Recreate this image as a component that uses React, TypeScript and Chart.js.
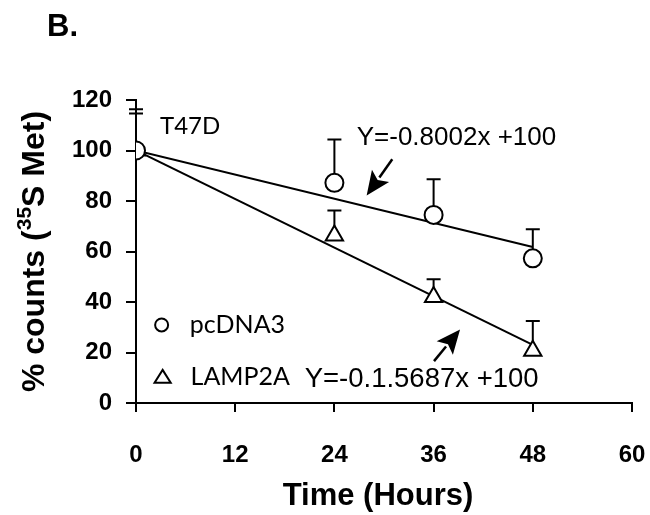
import React, { useEffect, useRef } from "react";
import { Chart, registerables } from "chart.js";

Chart.register(...registerables);

// ---- data ----
const hours = [0, 24, 36, 48];
const pcdnaValues = [100, 87.2, 74.5, 57.3];
const pcdnaErrors = [16.3, 17.2, 14.1, 11.5];
const lampValues = [100, 66.3, 42.0, 20.7];
const lampErrors = [14.7, 9.9, 7.0, 11.8];
const fitHours = [0, 48];
const pcdnaFit = [100, 61.8];
const lampFit = [100, 23.0];
const xTicks = [0, 12, 24, 36, 48, 60];
const yTicks = [0, 20, 40, 60, 80, 100, 120];
const seriesLabels = ["pcDNA3", "LAMP2A"];
const fitLabels = ["Y=-0.8002x +100", "Y=-0.1.5687x +100"];
const cellLabel = "T47D";
const panelLabel = "B.";
const xTitle = "Time (Hours)";
const yTitleParts = ["% counts (", "35", "S Met)"];

// annotation anchors in data coordinates
const arrows = [
  { from: [31.0, 96.5], to: [27.9, 82.2] },
  { from: [36.05, 16.6], to: [39.2, 29.1] },
];

const SANS = "'Liberation Sans', Arial, sans-serif";
const CAL = "Lato, 'Open Sans', sans-serif";

function drawArrow(ctx: CanvasRenderingContext2D, x1: number, y1: number, x2: number, y2: number) {
  const ang = Math.atan2(y2 - y1, x2 - x1);
  const headLen = 24;
  const headW = 10.5;
  const c = Math.cos(ang), s = Math.sin(ang);
  const bx = x2 - headLen * c, by = y2 - headLen * s;
  ctx.beginPath();
  ctx.moveTo(x1, y1);
  ctx.lineTo(bx + 2 * c, by + 2 * s);
  ctx.lineWidth = 2.5;
  ctx.stroke();
  ctx.beginPath();
  ctx.moveTo(x2, y2);
  ctx.lineTo(bx - headW * s, by + headW * c);
  ctx.lineTo(bx + 5 * c, by + 5 * s);
  ctx.lineTo(bx + headW * s, by - headW * c);
  ctx.closePath();
  ctx.fill();
}

const annotPlugin = {
  id: "annot",
  beforeDatasetsDraw(chart: any) {
    const ctx: CanvasRenderingContext2D = chart.ctx;
    const xs = chart.scales.x, ys = chart.scales.y;
    ctx.save();
    ctx.strokeStyle = "#000";
    ctx.lineWidth = 2;
    const series = [
      [pcdnaValues, pcdnaErrors],
      [lampValues, lampErrors],
    ];
    series.forEach(([vals, errs]) => {
      hours.forEach((h, i) => {
        const px = xs.getPixelForValue(h);
        const py = ys.getPixelForValue(vals[i]);
        const pe = ys.getPixelForValue(vals[i] + errs[i]);
        ctx.beginPath();
        ctx.moveTo(px, py);
        ctx.lineTo(px, pe);
        ctx.moveTo(px - 7, pe);
        ctx.lineTo(px + 7, pe);
        ctx.stroke();
      });
    });
    ctx.restore();
  },
  afterDraw(chart: any) {
    const ctx: CanvasRenderingContext2D = chart.ctx;
    const xs = chart.scales.x, ys = chart.scales.y;
    const area = chart.chartArea;
    const X = (v: number) => xs.getPixelForValue(v);
    const Y = (v: number) => ys.getPixelForValue(v);
    ctx.save();
    ctx.fillStyle = "#000";
    ctx.strokeStyle = "#000";

    // panel label
    ctx.font = `bold 31px ${SANS}`;
    ctx.textAlign = "left";
    ctx.textBaseline = "alphabetic";
    ctx.fillText(panelLabel, 47, 36);

    // cell line label
    ctx.font = `24px ${CAL}`;
    ctx.textBaseline = "middle";
    ctx.fillText(cellLabel, X(2.9), Y(109.5));

    // fit labels
    ctx.font = `26px ${SANS}`;
    ctx.fillText(fitLabels[0], X(26.7), Y(105.1));
    ctx.font = `27.5px ${SANS}`;
    ctx.fillText(fitLabels[1], X(20.4), Y(9.5));

    // arrows
    arrows.forEach((a) => {
      drawArrow(ctx, X(a.from[0]), Y(a.from[1]), X(a.to[0]), Y(a.to[1]));
    });

    // legend
    ctx.lineWidth = 2;
    ctx.fillStyle = "#fff";
    const lx = X(3.1);
    const ly1 = Y(30.9);
    ctx.beginPath();
    ctx.arc(lx, ly1, 6.5, 0, Math.PI * 2);
    ctx.fill();
    ctx.stroke();
    const ly2 = Y(10.3);
    const r = 9.5;
    ctx.beginPath();
    ctx.moveTo(lx + 1, ly2 - r * 0.75);
    ctx.lineTo(lx + 1 + r * 0.85, ly2 + r * 0.6);
    ctx.lineTo(lx + 1 - r * 0.85, ly2 + r * 0.6);
    ctx.closePath();
    ctx.fill();
    ctx.stroke();
    ctx.fillStyle = "#000";
    ctx.font = `25px ${CAL}`;
    ctx.textAlign = "left";
    ctx.textBaseline = "middle";
    ctx.fillText(seriesLabels[0], X(6.5), ly1);
    ctx.fillText(seriesLabels[1], X(6.6), ly2);

    // x title
    ctx.font = `bold 31px ${SANS}`;
    ctx.textAlign = "center";
    ctx.textBaseline = "middle";
    ctx.fillText(xTitle, (area.left + area.right) / 2 - 6, 496);

    // y title (rotated with superscript)
    const big = `bold 32px ${SANS}`;
    const small = `bold 21px ${SANS}`;
    ctx.font = big;
    const w1 = ctx.measureText(yTitleParts[0]).width;
    const w3 = ctx.measureText(yTitleParts[2]).width;
    ctx.font = small;
    const w2 = ctx.measureText(yTitleParts[1]).width;
    const total = w1 + w2 + w3;
    ctx.translate(44, (area.top + area.bottom) / 2);
    ctx.rotate(-Math.PI / 2);
    ctx.textAlign = "left";
    ctx.textBaseline = "alphabetic";
    let cx = -total / 2;
    ctx.font = big;
    ctx.fillText(yTitleParts[0], cx, 0);
    cx += w1;
    ctx.font = small;
    ctx.fillText(yTitleParts[1], cx, -13);
    cx += w2;
    ctx.font = big;
    ctx.fillText(yTitleParts[2], cx, 0);
    ctx.restore();
  },
};

export default function App() {
  const ref = useRef<HTMLCanvasElement>(null);
  useEffect(() => {
    const toPts = (xs: number[], ys: number[]) => xs.map((x, i) => ({ x, y: ys[i] }));
    const chart = new Chart(ref.current as HTMLCanvasElement, {
      type: "scatter",
      data: {
        datasets: [
          {
            label: seriesLabels[0],
            data: toPts(hours, pcdnaValues),
            pointStyle: "circle",
            pointRadius: 9,
            pointBorderWidth: 2,
            pointBackgroundColor: "#fff",
            pointBorderColor: "#000",
            order: 0,
          },
          {
            label: seriesLabels[1],
            data: toPts(hours, lampValues),
            pointStyle: "triangle",
            pointRadius: 10,
            pointBorderWidth: 2,
            pointBackgroundColor: "#fff",
            pointBorderColor: "#000",
            order: 0,
          },
          {
            label: fitLabels[0],
            data: toPts(fitHours, pcdnaFit),
            showLine: true,
            pointRadius: 0,
            borderColor: "#000",
            borderWidth: 2,
            order: 5,
          },
          {
            label: fitLabels[1],
            data: toPts(fitHours, lampFit),
            showLine: true,
            pointRadius: 0,
            borderColor: "#000",
            borderWidth: 2,
            order: 5,
          },
        ],
      } as any,
      options: {
        animation: false,
        responsive: false,
        devicePixelRatio: 1,
        layout: { padding: { top: 100, right: 18, left: 0, bottom: 0 } },
        plugins: { legend: { display: false }, tooltip: { enabled: false } },
        scales: {
          x: {
            type: "linear",
            min: 0,
            max: 60,
            afterBuildTicks: (s: any) => {
              s.ticks = xTicks.map((v) => ({ value: v }));
            },
            afterFit: (s: any) => {
              s.height = 112;
              s.paddingLeft = 0;
              s.paddingRight = 0;
            },
            grid: { drawOnChartArea: false, drawTicks: true, tickLength: 9, color: "#000", lineWidth: 2 },
            border: { display: true, color: "#000", width: 2 },
            ticks: {
              padding: 29,
              color: "#000",
              maxRotation: 0,
              autoSkip: false,
              font: { family: SANS, size: 24, weight: "bold" },
            },
          },
          y: {
            type: "linear",
            min: 0,
            max: 120,
            afterBuildTicks: (s: any) => {
              s.ticks = yTicks.map((v) => ({ value: v }));
            },
            afterFit: (s: any) => {
              s.width = 136;
              s.paddingTop = 0;
              s.paddingBottom = 0;
            },
            grid: { drawOnChartArea: false, drawTicks: true, tickLength: 10, color: "#000", lineWidth: 2 },
            border: { display: true, color: "#000", width: 2 },
            ticks: {
              padding: 14,
              color: "#000",
              autoSkip: false,
              font: { family: SANS, size: 24, weight: "bold" },
            },
          },
        },
      } as any,
      plugins: [annotPlugin],
    });
    return () => chart.destroy();
  }, []);
  return (
    <div style={{ position: "fixed", left: 0, top: 0, width: 650, height: 515, background: "#fff" }}>
      <canvas ref={ref} width={650} height={515} style={{ display: "block" }} />
    </div>
  );
}
